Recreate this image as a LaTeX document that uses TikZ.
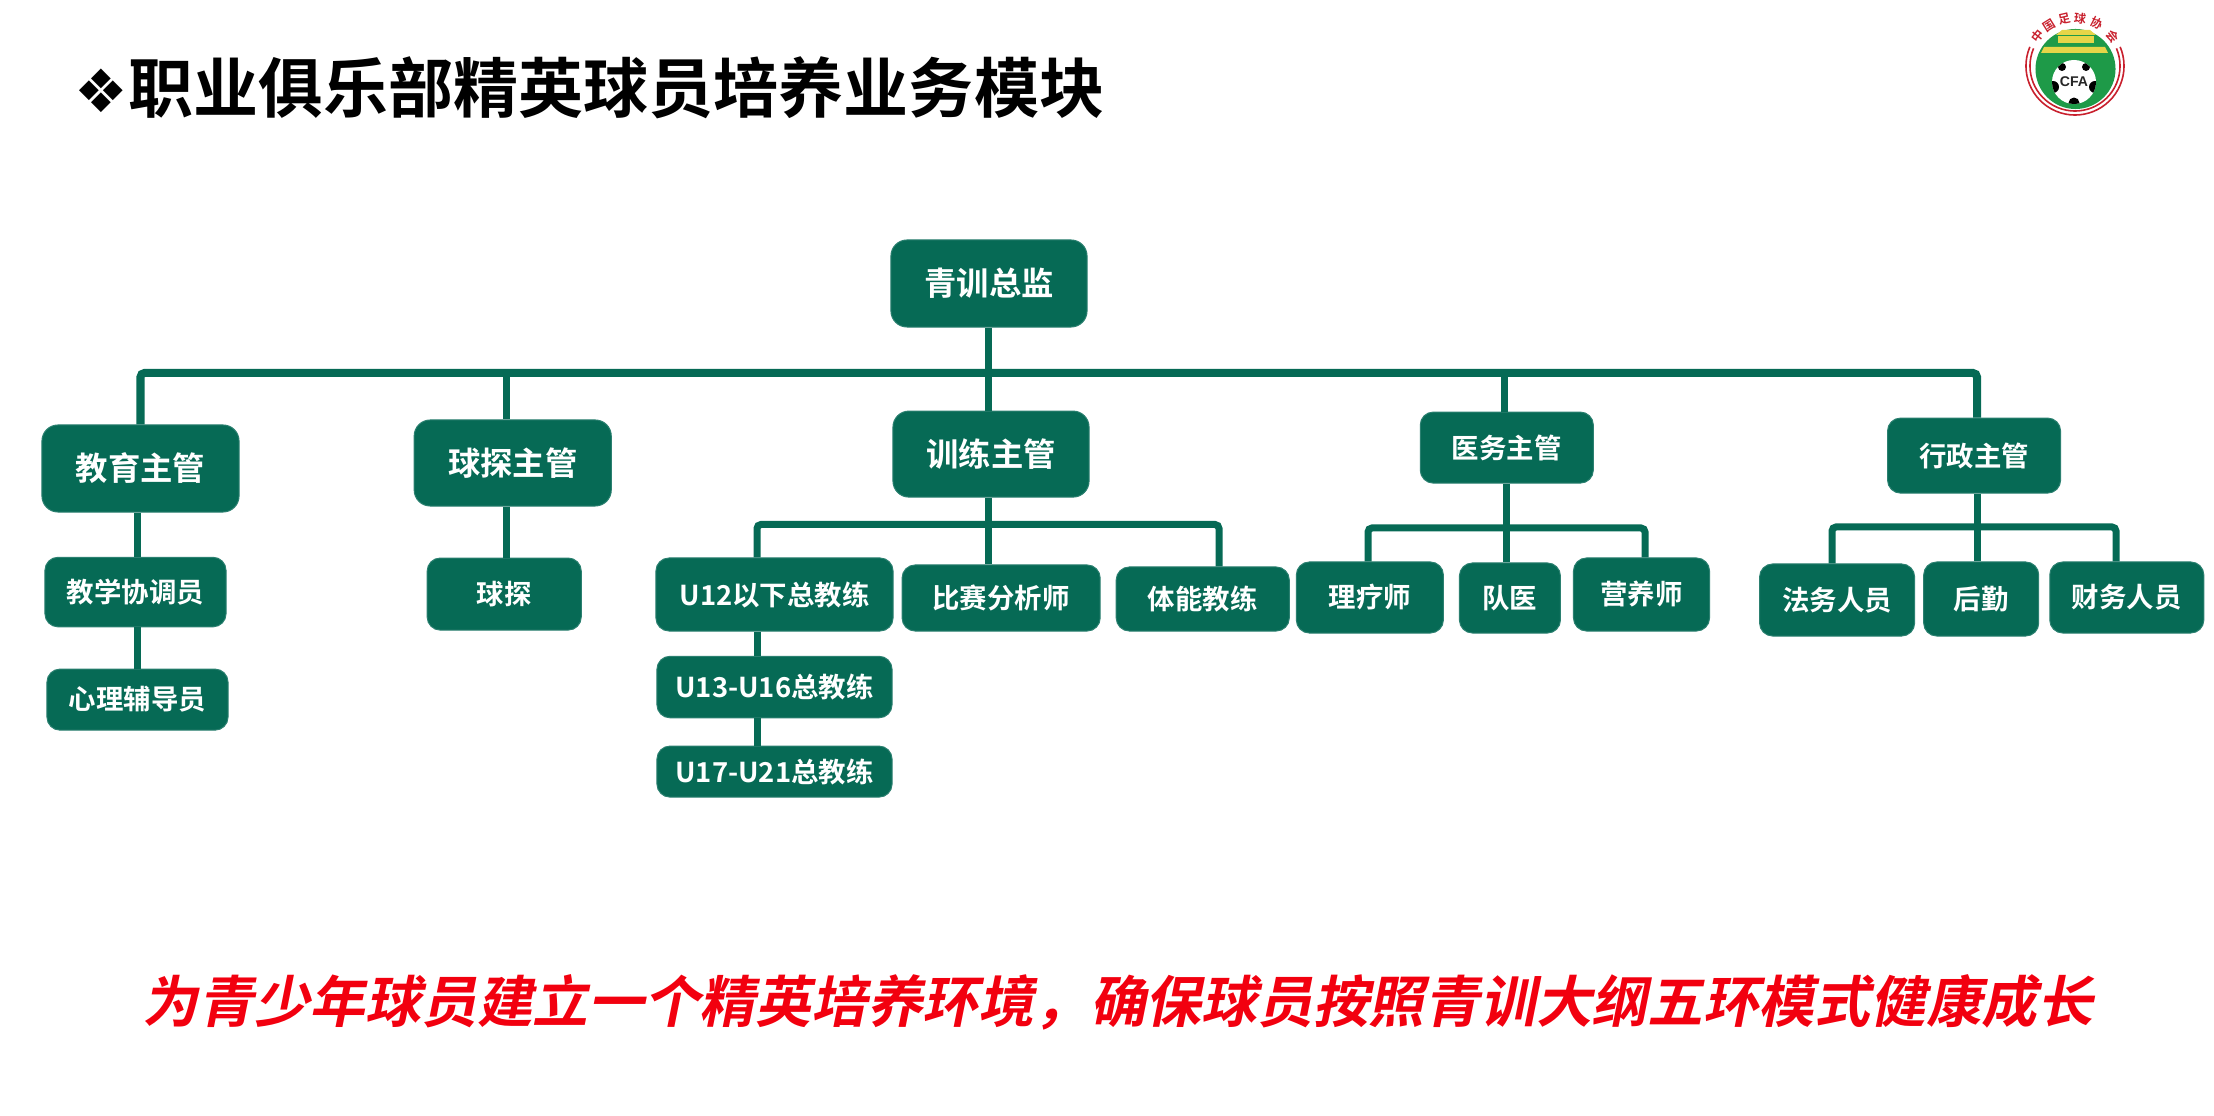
\documentclass[tikz,border=0pt]{standalone}
\usepackage{fontspec}
\setmainfont{Noto Sans CJK SC}
\newfontfamily\cjkbold{Noto Sans CJK SC Bold}
\newfontfamily\cjkslant[FakeSlant=0.2]{Noto Sans CJK SC Bold}
\newfontfamily\symfont{DejaVu Sans}
\newfontfamily\logofont{Liberation Sans}[BoldFont={Liberation Sans Bold}]
\usetikzlibrary{calc}
\definecolor{clubgreen}{HTML}{066A55}
\definecolor{clubedge}{HTML}{2B8070}
\definecolor{sealgreen}{HTML}{1E9A48}
\definecolor{sealgold}{HTML}{E6D548}
\definecolor{sealred}{HTML}{C8202D}
\definecolor{slogan}{HTML}{F2000F}
\tikzset{
	lead/.style = {draw=clubedge, line width=0.01cm, fill=clubgreen, rectangle, rounded corners=0.16cm, text=white, inner sep=0pt, font=\cjkbold\fontsize{9.2}{11}\selectfont},
	%,
	staff/.style = {lead, rounded corners=0.13cm, font=\cjkbold\fontsize{7.8}{10}\selectfont},
	link/.style = {draw=clubgreen, line width=0.07cm},
	busline/.style = {link, line width=0.08cm, rounded corners=0.04cm},
	sealchar/.style = {text=sealred, inner sep=0pt, font=\cjkbold\fontsize{3.4}{3.4}\selectfont},
	patch/.style = {fill=black, draw=none}
}

\begin{document}
\begin{tikzpicture}[auto, x=0.01cm, y=-0.01cm, node distance=2cm]
    \useasboundingbox (0,0) rectangle (2214,1116);
    % The heading and the closing line
    \node [anchor=west, inner sep=0pt, font=\cjkbold\fontsize{18.5}{22}\selectfont] (heading) at (74,88)
        {{\symfont\fontsize{17}{22}\selectfont ❖}职业俱乐部精英球员培养业务模块};
    \node [inner sep=0pt, text=slogan, font=\cjkslant\fontsize{15.85}{19}\selectfont] (motto) at (1118,1002)
        {为青少年球员建立一个精英培养环境，确保球员按照青训大纲五环模式健康成长};

    % We start by placing the five leads under the director
    \node [lead, minimum width=1.96cm, minimum height=0.87cm] (director) at (989,283.5) {青训总监};
    \node [lead, minimum width=1.97cm, minimum height=0.87cm] (education) at (140.5,468.5) {教育主管};
    \node [lead, minimum width=1.97cm, minimum height=0.86cm, right of=education, node distance=3.72cm, yshift=0.055cm] (scouting) {球探主管};
    \node [lead, minimum width=1.96cm, minimum height=0.86cm, below of=director, node distance=1.705cm, xshift=0.02cm] (training) {训练主管};
    \node [staff, minimum width=1.73cm, minimum height=0.71cm, right of=training, node distance=5.155cm, yshift=0.065cm] (medical) {医务主管};
    \node [staff, minimum width=1.73cm, minimum height=0.75cm, right of=medical, node distance=4.67cm, yshift=-0.08cm] (admin) {行政主管};

    % The staff of each lead
    \node [staff, minimum width=1.81cm, minimum height=0.695cm, below of=education, node distance=1.235cm, xshift=-0.05cm] (coordinator) {教学协调员};
    \node [staff, minimum width=1.81cm, minimum height=0.61cm, below of=coordinator, node distance=1.075cm, xshift=0.02cm] (counsellor) {心理辅导员};
    \node [staff, minimum width=1.54cm, minimum height=0.72cm, below of=scouting, node distance=1.31cm, xshift=-0.085cm] (scout) {球探};
    \node [staff, minimum width=2.37cm, minimum height=0.73cm] (youngest) at (774.5,594.5) {U12以下总教练};
    \node [staff, minimum width=2.35cm, minimum height=0.615cm, below of=youngest, node distance=0.925cm] (middle) {U13-U16总教练};
    \node [staff, minimum width=2.35cm, minimum height=0.51cm, below of=middle, node distance=0.845cm] (oldest) {U17-U21总教练};
    \node [staff, minimum width=1.98cm, minimum height=0.66cm, right of=youngest, node distance=2.265cm, yshift=-0.035cm] (analyst) {比赛分析师};
    \node [staff, minimum width=1.73cm, minimum height=0.64cm, right of=analyst, node distance=2.015cm, yshift=-0.01cm] (fitness) {体能教练};
    \node [staff, minimum width=1.47cm, minimum height=0.71cm, right of=fitness, node distance=1.67cm, yshift=0.015cm] (therapist) {理疗师};
    \node [staff, minimum width=1.01cm, minimum height=0.70cm, right of=therapist, node distance=1.40cm, yshift=-0.005cm] (doctor) {队医};
    \node [staff, minimum width=1.36cm, minimum height=0.73cm, right of=doctor, node distance=1.315cm, yshift=0.035cm] (nutrition) {营养师};
    \node [staff, minimum width=1.55cm, minimum height=0.72cm, right of=nutrition, node distance=1.955cm, yshift=-0.055cm] (legal) {法务人员};
    \node [staff, minimum width=1.15cm, minimum height=0.74cm, right of=legal, node distance=1.44cm, yshift=0.01cm] (logistics) {后勤};
    \node [staff, minimum width=1.54cm, minimum height=0.71cm, right of=logistics, node distance=1.455cm, yshift=0.015cm] (finance) {财务人员};

    % Where the trunks run
    \coordinate (maintap) at (988,373);
    \coordinate (scouttap) at (506,373);
    \coordinate (medtap) at (1504,373);
    \coordinate (mainright) at (1977,373);
    \coordinate (edutap) at (137.5,592);
    \coordinate (trainleft) at (757,524.5);
    \coordinate (trainright) at (1219,524.5);
    \coordinate (medleft) at (1368,528);
    \coordinate (medright) at (1645,528);
    \coordinate (adminleft) at (1832,527);
    \coordinate (adminright) at (2116,527);

    % Once the nodes are placed, connecting them is easy.
    \draw [busline] (education.north) |- (mainright) -- (mainright |- admin.north);
    \draw [link] (director.south -| maintap) -- (training.north -| maintap);
    \draw [link] (scouttap) -- (scouting.north -| scouttap);
    \draw [link] (medtap) -- (medical.north -| medtap);
    \draw [link] (education.south -| edutap) -- (coordinator.north -| edutap);
    \draw [link] (coordinator.south -| edutap) -- (counsellor.north -| edutap);
    \draw [link] (scouting.south -| scouttap) -- (scout.north -| scouttap);
    \draw [busline, line width=0.07cm] (youngest.north -| trainleft) -- (trainleft) -- (trainright) -- (fitness.north -| trainright);
    \draw [link] (training.south -| maintap) -- (analyst.north -| maintap);
    \draw [link] (youngest.south -| trainleft) -- (middle.north -| trainleft);
    \draw [link] (middle.south -| trainleft) -- (oldest.north -| trainleft);
    \draw [busline, line width=0.07cm] (therapist.north -| medleft) -- (medleft) -- (medright) -- (nutrition.north -| medright);
    \draw [link] (medical.south) -- (doctor.north -| medical.south);
    \draw [busline, line width=0.07cm] (legal.north -| adminleft) -- (adminleft) -- (adminright) -- (finance.north -| adminright);
    \draw [link] (admin.south -| mainright) -- (logistics.north -| mainright);

    % The badge in the corner
    \coordinate (seal) at (2075,66);
    \coordinate (ball) at (2074,82);
    \fill [sealgreen] (2075.5,69) circle [radius=0.40cm];
    \draw [sealred, line width=0.016cm] (seal) ++(157:0.49cm) arc [start angle=157, end angle=383, radius=0.49cm];
    \draw [sealred, line width=0.016cm] (seal) ++(157:0.45cm) arc [start angle=157, end angle=383, radius=0.45cm];
    \fill [sealgold] (2044,47) -- (2105,47) -- (2108,53) -- (2041,53) -- cycle;
    \fill [sealgold] (2058,36) rectangle (2094,43);
    \fill [sealgold] (2056,35) -- (2062,30) -- (2090,30) -- (2096,35) -- cycle;
    \fill [white] (ball) circle [radius=0.22cm];
    \begin{scope}
        \clip (ball) circle [radius=0.22cm];
        \fill [patch] ($(ball)+(0,-0.21cm)$) circle [radius=0.055cm];
        \fill [patch] ($(ball)+(-0.21cm,-0.05cm)$) circle [radius=0.06cm];
        \fill [patch] ($(ball)+(0.21cm,-0.05cm)$) circle [radius=0.06cm];
        \fill [patch] ($(ball)+(-0.12cm,0.15cm)$) circle [radius=0.04cm];
        \fill [patch] ($(ball)+(0.12cm,0.15cm)$) circle [radius=0.04cm];
    \end{scope}
    \node [inner sep=0pt, text=black!85, font=\logofont\bfseries\fontsize{4}{4}\selectfont] (cfa) at (ball) {CFA};
    \node [sealchar, rotate=52] (sealzhong) at ($(seal)+(142:0.48cm)$) {中};
    \node [sealchar, rotate=32] (sealguo) at ($(seal)+(122:0.48cm)$) {国};
    \node [sealchar, rotate=13] (sealzu) at ($(seal)+(103:0.48cm)$) {足};
    \node [sealchar, rotate=-6] (sealqiu) at ($(seal)+(84:0.48cm)$) {球};
    \node [sealchar, rotate=-27] (sealxie) at ($(seal)+(63:0.48cm)$) {协};
    \node [sealchar, rotate=-52] (sealhui) at ($(seal)+(38:0.48cm)$) {会};
\end{tikzpicture}
\end{document}
